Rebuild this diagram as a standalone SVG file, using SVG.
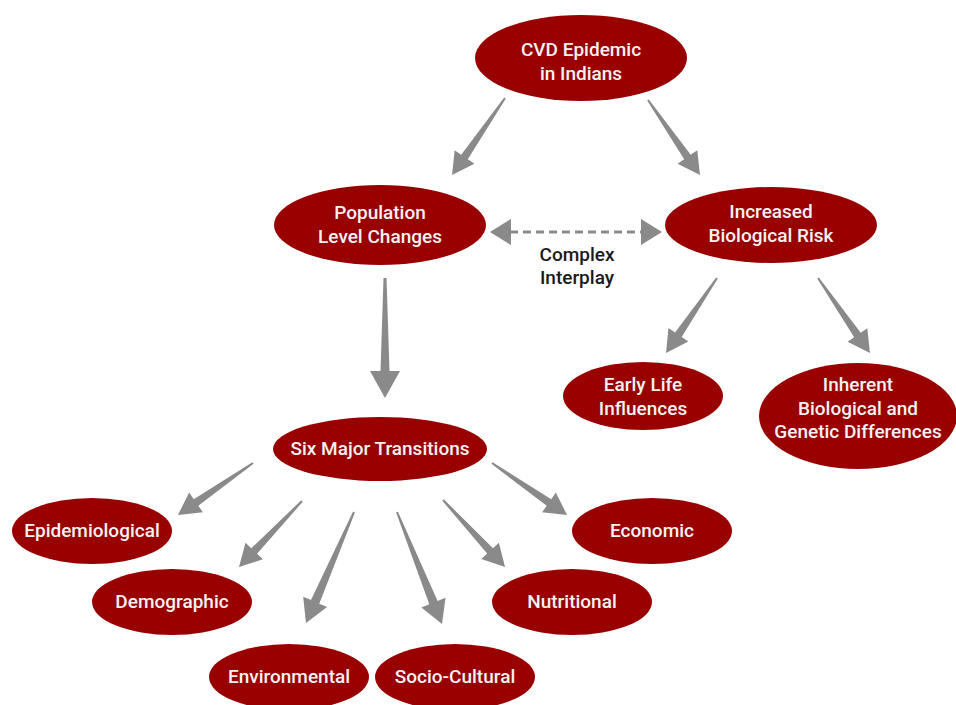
<svg xmlns="http://www.w3.org/2000/svg" width="956" height="705" viewBox="0 0 956 705">
<style>
.node ellipse{fill:#990000}
.node text{fill:#f2f2f2;font-family:Roboto,"Noto Sans",sans-serif;font-size:19px;font-weight:500;text-anchor:middle}
.arr{fill:#8a8a8a}
.lbl{fill:#1a1a1a;font-family:Roboto,"Noto Sans",sans-serif;font-size:19px;font-weight:500;text-anchor:middle}
</style>
<rect width="956" height="705" fill="#ffffff"/>
<g id="connectors">
  <polygon class="arr" transform="translate(505,98) rotate(124.5)" points="0,-1 71.5,-4 71.5,-12 93.5,0 71.5,12 71.5,4 0,1"/>
  <polygon class="arr" transform="translate(648,100) rotate(55.3)" points="0,-1 69.3,-4 69.3,-12 91.3,0 69.3,12 69.3,4 0,1"/>
  <polygon class="arr" transform="translate(385,278) rotate(90)" points="0,-1.5 93,-4.5 93,-15 120,0 93,15 93,4.5 0,1.5"/>
  <polygon class="arr" transform="translate(717,278) rotate(124.2)" points="0,-1 68.7,-4 68.7,-12 90.7,0 68.7,12 68.7,4 0,1"/>
  <polygon class="arr" transform="translate(818,278) rotate(55.3)" points="0,-1 69.3,-4 69.3,-12 91.3,0 69.3,12 69.3,4 0,1"/>
  <polygon class="arr" transform="translate(253,463) rotate(145.3)" points="0,-1 69.3,-4 69.3,-12 91.3,0 69.3,12 69.3,4 0,1"/>
  <polygon class="arr" transform="translate(302,501) rotate(133.7)" points="0,-1 69.2,-4 69.2,-12 91.2,0 69.2,12 69.2,4 0,1"/>
  <polygon class="arr" transform="translate(354,512) rotate(113.4)" points="0,-1 97.9,-4.5 97.9,-13 120.9,0 97.9,13 97.9,4.5 0,1"/>
  <polygon class="arr" transform="translate(397,512) rotate(68.1)" points="0,-1 97.7,-4.5 97.7,-13 120.7,0 97.7,13 97.7,4.5 0,1"/>
  <polygon class="arr" transform="translate(443,500) rotate(47.2)" points="0,-1 69.3,-4 69.3,-12 91.3,0 69.3,12 69.3,4 0,1"/>
  <polygon class="arr" transform="translate(492,463) rotate(34.7)" points="0,-1 69.3,-4 69.3,-12 91.3,0 69.3,12 69.3,4 0,1"/>
  <line x1="510" y1="232" x2="642" y2="232" stroke="#8a8a8a" stroke-width="3" stroke-dasharray="8 5"/>
  <polygon class="arr" points="490,232 511,219 511,245"/>
  <polygon class="arr" points="662,232 641,219 641,245"/>
</g>
<text class="lbl" x="577" y="261">Complex</text>
<text class="lbl" x="577" y="284">Interplay</text>
<g id="cvd" class="node"><ellipse cx="581" cy="58" rx="106" ry="43"/><text x="581" y="56">CVD Epidemic</text><text x="581" y="80">in Indians</text></g>
<g id="population" class="node"><ellipse cx="380" cy="225" rx="106" ry="40"/><text x="380" y="219">Population</text><text x="380" y="243">Level Changes</text></g>
<g id="biorisk" class="node"><ellipse cx="771" cy="225" rx="106" ry="38"/><text x="771" y="218">Increased</text><text x="771" y="242">Biological Risk</text></g>
<g id="sixmajor" class="node"><ellipse cx="380" cy="449" rx="107" ry="32"/><text x="380" y="455">Six Major Transitions</text></g>
<g id="earlylife" class="node"><ellipse cx="643" cy="396" rx="80" ry="34"/><text x="643" y="391">Early Life</text><text x="643" y="415">Influences</text></g>
<g id="inherent" class="node"><ellipse cx="858" cy="416" rx="99" ry="53"/><text x="858" y="391">Inherent</text><text x="858" y="415">Biological and</text><text x="858" y="438">Genetic Differences</text></g>
<g id="epidemiological" class="node"><ellipse cx="92" cy="531" rx="80" ry="33"/><text x="92" y="537">Epidemiological</text></g>
<g id="demographic" class="node"><ellipse cx="172" cy="602" rx="80" ry="33"/><text x="172" y="608">Demographic</text></g>
<g id="environmental" class="node"><ellipse cx="289" cy="677" rx="80" ry="33"/><text x="289" y="683">Environmental</text></g>
<g id="sociocultural" class="node"><ellipse cx="455" cy="677" rx="80" ry="33"/><text x="455" y="683">Socio-Cultural</text></g>
<g id="nutritional" class="node"><ellipse cx="572" cy="602" rx="80" ry="33"/><text x="572" y="608">Nutritional</text></g>
<g id="economic" class="node"><ellipse cx="652" cy="531" rx="80" ry="33"/><text x="652" y="537">Economic</text></g>
</svg>
